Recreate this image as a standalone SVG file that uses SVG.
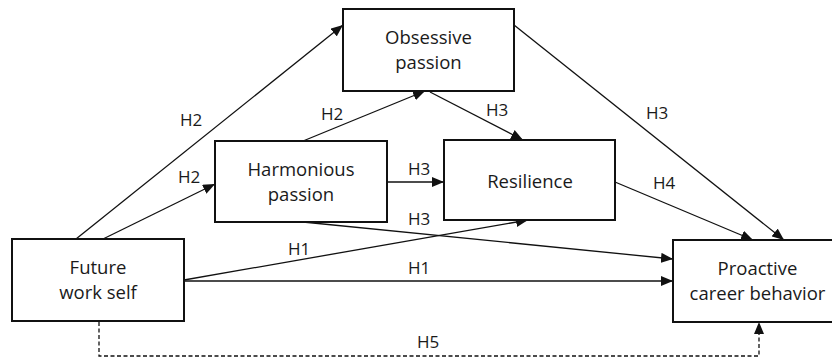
<svg xmlns="http://www.w3.org/2000/svg" width="832" height="363" viewBox="0 0 832 363">
<defs>
<marker id="arr" viewBox="0 0 12 10" refX="12" refY="5" markerWidth="12" markerHeight="10" markerUnits="userSpaceOnUse" orient="auto">
<path d="M0,0 L12,5 L0,10 z" fill="#111"/>
</marker>
<style>
.box{fill:#fff;stroke:#111;stroke-width:2}
.nt{font-family:"Open Sans","Noto Sans",sans-serif;font-size:18.5px;fill:#1a1a1a;text-anchor:middle}
.lb{font-family:"Open Sans","Noto Sans",sans-serif;font-size:17px;fill:#1a1a1a}
.ln{stroke:#111;stroke-width:1.3;fill:none;marker-end:url(#arr)}
.dash{stroke-dasharray:4 2.5}
</style>
</defs>
<rect width="832" height="363" fill="#fff"/>
<g id="connectors">
<line class="ln" x1="76" y1="239" x2="343" y2="25"/>
<line class="ln" x1="103" y1="239" x2="215" y2="184"/>
<line class="ln" x1="303" y1="141" x2="425" y2="91"/>
<line class="ln" x1="430" y1="92" x2="523" y2="140"/>
<line class="ln" x1="514" y1="25" x2="784" y2="240"/>
<line class="ln" x1="387" y1="182" x2="444" y2="182"/>
<line class="ln" x1="615" y1="182" x2="753" y2="240"/>
<line class="ln" x1="303" y1="222" x2="673" y2="259"/>
<line class="ln" x1="184" y1="280" x2="528" y2="220"/>
<line class="ln" x1="184" y1="281" x2="673" y2="281"/>
<path class="ln dash" d="M99,322 V356 H759 V322"/>
<text class="lb" x="180" y="126">H2</text>
<text class="lb" x="178" y="183">H2</text>
<text class="lb" x="321" y="120">H2</text>
<text class="lb" x="486" y="116">H3</text>
<text class="lb" x="646" y="119">H3</text>
<text class="lb" x="408" y="175">H3</text>
<text class="lb" x="653" y="189">H4</text>
<text class="lb" x="408" y="225">H3</text>
<text class="lb" x="288" y="255">H1</text>
<text class="lb" x="408" y="274">H1</text>
<text class="lb" x="417" y="348">H5</text>
</g>
<g id="obsessive">
<rect class="box" x="343" y="9" width="171" height="82"/>
<text class="nt" x="428.5" y="44">Obsessive</text>
<text class="nt" x="428.5" y="69">passion</text>
</g>
<g id="harmonious">
<rect class="box" x="215" y="141" width="172" height="81"/>
<text class="nt" x="301" y="176">Harmonious</text>
<text class="nt" x="301" y="201">passion</text>
</g>
<g id="resilience">
<rect class="box" x="444" y="140" width="171" height="80"/>
<text class="nt" x="530" y="188">Resilience</text>
</g>
<g id="future">
<rect class="box" x="12" y="239" width="172" height="82"/>
<text class="nt" x="98" y="274">Future</text>
<text class="nt" x="98" y="299">work self</text>
</g>
<g id="proactive">
<rect class="box" x="673" y="240" width="170" height="82"/>
<text class="nt" x="757.5" y="275">Proactive</text>
<text class="nt" x="757.5" y="300">career behavior</text>
</g>
</svg>
